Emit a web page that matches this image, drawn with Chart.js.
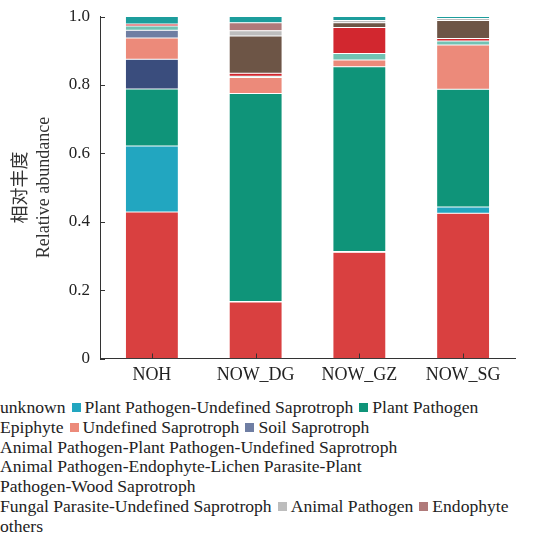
<!DOCTYPE html>
<html>
<head>
<meta charset="utf-8">
<script src="https://cdn.jsdelivr.net/npm/chart.js@4/dist/chart.umd.min.js"></script>
<style>
  html, body { margin: 0; padding: 0; background: #fff; }
  #wrap { position: relative; width: 555px; height: 535px; overflow: hidden; }
  #box { position: absolute; left: 0; top: 0; width: 555px; height: 392px; }
  #legend {
    position: absolute; left: 0; top: 398px; width: 560px;
    font-family: "Liberation Serif", "Times New Roman", serif;
    font-size: 17.6px; line-height: 19.8px; color: #222;
  }
  #legend .row { white-space: nowrap; }
  #legend .wrapitem { white-space: normal; width: 400px; }
  #legend .sw { display: inline-block; width: 9px; height: 9px; margin: 0 4px 0 6px; vertical-align: 1px; }
</style>
</head>
<body>
<div id="wrap">
  <div id="box"><canvas id="c"></canvas></div>
  <div id="legend"></div>
</div>
<script>
// Samples on the x axis
const samples = ['NOH', 'NOW_DG', 'NOW_GZ', 'NOW_SG'];

// Relative abundance of each functional guild, per sample (stacked bottom to top)
const unknown        = [0.428, 0.165, 0.311, 0.425];
const ppUndefSap     = [0.193, 0.002, 0.002, 0.018];
const plantPathogen  = [0.167, 0.608, 0.540, 0.344];
const epiphyte       = [0.087, 0.000, 0.000, 0.000];
const undefSap       = [0.062, 0.047, 0.020, 0.130];
const soilSap        = [0.023, 0.000, 0.000, 0.000];
const apPpUndefSap   = [0.012, 0.003, 0.019, 0.011];
const apEndoLichen   = [0.006, 0.009, 0.076, 0.008];
const fungalParUndef = [0.000, 0.109, 0.014, 0.052];
const animalPathogen = [0.000, 0.015, 0.006, 0.006];
const endophyte      = [0.000, 0.024, 0.000, 0.000];
const others         = [0.022, 0.018, 0.012, 0.006];

const guildNames = [
  'unknown', 'Plant Pathogen-Undefined Saprotroph', 'Plant Pathogen', 'Epiphyte',
  'Undefined Saprotroph', 'Soil Saprotroph', 'Animal Pathogen-Plant Pathogen-Undefined Saprotroph',
  'Animal Pathogen-Endophyte-Lichen Parasite-Plant Pathogen-Wood Saprotroph',
  'Fungal Parasite-Undefined Saprotroph', 'Animal Pathogen', 'Endophyte', 'others'
];
const guildValues = [unknown, ppUndefSap, plantPathogen, epiphyte, undefSap, soilSap,
  apPpUndefSap, apEndoLichen, fungalParUndef, animalPathogen, endophyte, others];
const guildColors = ['#d94040', '#22a6c0', '#0f9479', '#3a4d7d', '#ec8a7a', '#6f7ea3',
  '#72c2b3', '#d2272f', '#6d5546', '#bdbdbd', '#b07a7a', '#1c9d9c'];

// Y axis tick values
const yTicks = [0, 0.2, 0.4, 0.6, 0.8, 1.0];

const FONT = '"Liberation Serif", "Noto Sans CJK SC", serif';
const AXIS = '#333';

// Inward tick marks on both axes
const inwardTicks = {
  id: 'inwardTicks',
  afterDraw(chart) {
    const { ctx, chartArea: a, scales: { x, y } } = chart;
    ctx.save();
    ctx.strokeStyle = AXIS;
    ctx.lineWidth = 1;
    ctx.beginPath();
    yTicks.forEach(v => {
      const py = Math.round(y.getPixelForValue(v)) + 0.5;
      ctx.moveTo(a.left, py); ctx.lineTo(a.left + 5, py);
    });
    samples.forEach((s, i) => {
      const px = Math.round(x.getPixelForValue(i)) + 0.5;
      ctx.moveTo(px, a.bottom); ctx.lineTo(px, a.bottom - 5);
    });
    ctx.stroke();
    ctx.restore();
  }
};

new Chart(document.getElementById('c'), {
  type: 'bar',
  data: {
    labels: samples,
    datasets: guildNames.map((n, i) => ({
      label: n,
      data: guildValues[i],
      backgroundColor: guildColors[i],
      borderColor: 'rgba(255,255,255,0.35)',
      borderWidth: 0.5,
      borderSkipped: false
    }))
  },
  options: {
    responsive: true,
    maintainAspectRatio: false,
    animation: false,
    layout: { padding: { top: 16.5, right: 40, left: 0, bottom: 0 } },
    plugins: { legend: { display: false }, tooltip: { enabled: false } },
    datasets: { bar: { categoryPercentage: 1, barPercentage: 0.51 } },
    scales: {
      x: {
        stacked: true,
        grid: { display: false, drawTicks: false },
        border: { display: true, color: AXIS, width: 1 },
        ticks: { color: '#222', font: { family: FONT, size: 18 }, padding: 6 },
        afterFit(s) { s.height = 33.5; }
      },
      y: {
        stacked: true,
        min: 0, max: 1,
        afterBuildTicks(s) { s.ticks = yTicks.map(v => ({ value: v })); },
        grid: { display: false, drawTicks: false },
        border: { display: true, color: AXIS, width: 1 },
        ticks: {
          color: '#222', font: { family: FONT, size: 17 }, padding: 10,
          callback: v => v === 0 ? '0' : v.toFixed(1)
        },
        title: {
          display: true,
          text: ['相对丰度', 'Relative abundance'],
          color: '#333',
          font: { family: FONT, size: 18, lineHeight: 1.28 },
          padding: { top: 10, bottom: 4 }
        },
        afterFit(s) { s.width = 100; s.paddingTop = 0; s.paddingBottom = 0; }
      }
    }
  },
  plugins: [inwardTicks]
});

// Legend rows, as laid out under the plot; swatches are shown for some entries only
const legendRows = [[0, 1, 2], [3, 4, 5], [6], [7], [8, 9, 10], [11]];
const legendSwatch = [false, true, true, false, true, true, false, false, false, true, true, false];
const lg = document.getElementById('legend');
legendRows.forEach(row => {
  const div = document.createElement('div');
  div.className = row.includes(7) ? 'wrapitem' : 'row';
  row.forEach((idx, k) => {
    if (legendSwatch[idx]) {
      const sw = document.createElement('span');
      sw.className = 'sw';
      sw.style.background = guildColors[idx];
      div.appendChild(sw);
    } else if (k > 0) {
      div.appendChild(document.createTextNode(' '));
    }
    div.appendChild(document.createTextNode(guildNames[idx]));
  });
  lg.appendChild(div);
});
</script>
</body>
</html>
